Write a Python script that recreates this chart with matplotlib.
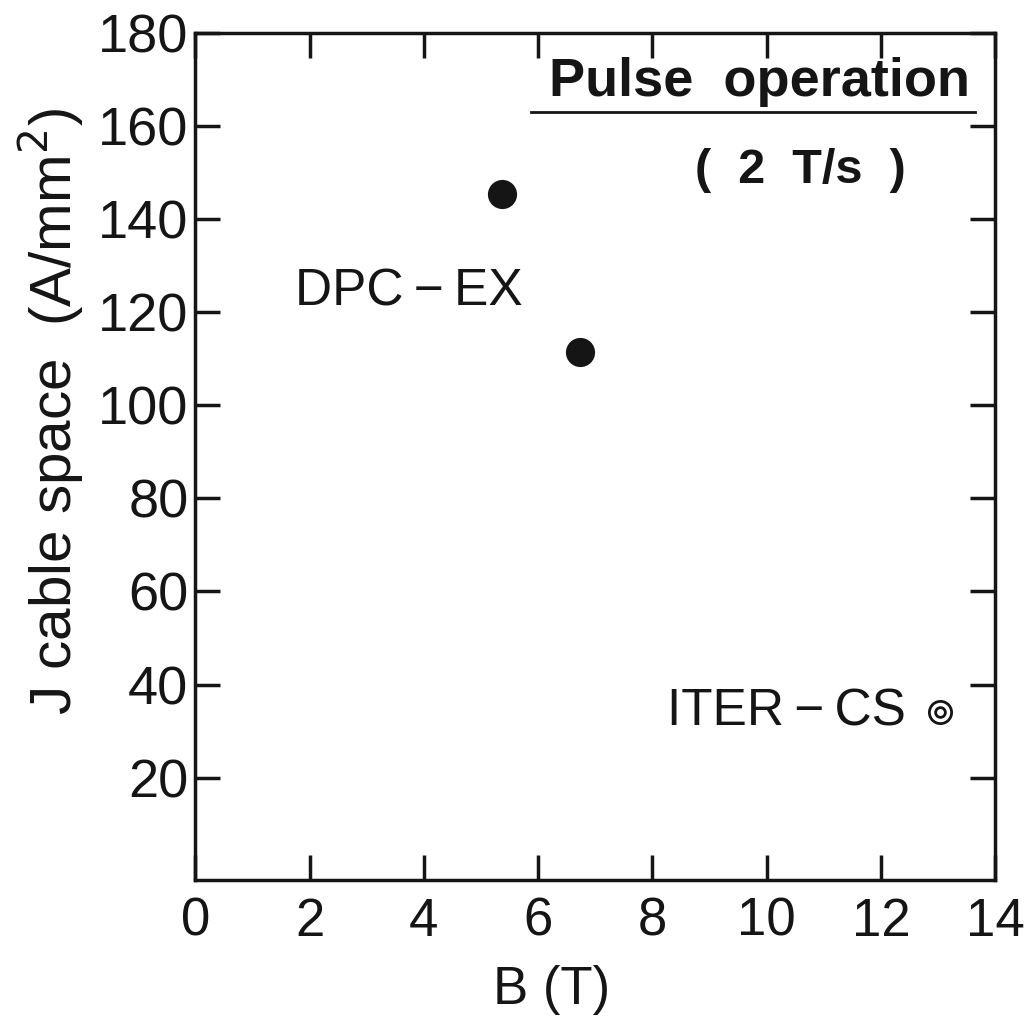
import matplotlib
matplotlib.use("Agg")
import matplotlib.pyplot as plt

plt.rcParams['font.family'] = ['Liberation Sans', 'DejaVu Sans']

# Data
dpc_B = [5.37, 6.74]
dpc_J = [145.4, 111.4]
iter_B = [13.04]
iter_J = [34.0]
xticks = [0, 2, 4, 6, 8, 10, 12, 14]
yticks = [20, 40, 60, 80, 100, 120, 140, 160, 180]

INK = '#151515'

fig = plt.figure(figsize=(10.28, 10.21), dpi=100)
ax = fig.add_axes([0.190, 0.138, 0.778, 0.830])

ax.plot(dpc_B, dpc_J, 'o', color=INK, markersize=21, markeredgewidth=0)
ax.plot(iter_B, iter_J, 'o', markerfacecolor='white', markeredgecolor=INK,
        markersize=16, markeredgewidth=2)
ax.plot(iter_B, iter_J, 'o', markerfacecolor='white', markeredgecolor=INK,
        markersize=7, markeredgewidth=2)

ax.set_xlim(0, 14)
ax.set_ylim(-2, 180)
ax.set_xticks(xticks)
ax.set_yticks(yticks)
ax.set_xticklabels([str(v) for v in xticks], fontsize=38)
ax.set_yticklabels([str(v) for v in yticks], fontsize=39)
ax.tick_params(axis='both', direction='in', length=18, width=2.5,
               top=True, right=True, color=INK, labelcolor=INK)
ax.tick_params(axis='x', pad=12)
ax.tick_params(axis='y', pad=5)
for s in ax.spines.values():
    s.set_linewidth(2.5)
    s.set_color(INK)

ax.set_xlabel('B (T)', fontsize=38, color=INK)
ax.set_ylabel('J cable space  (A/mm$^2$)', fontsize=42, color=INK)
ax.yaxis.set_label_coords(-0.137, 0.553)
ax.xaxis.set_label_coords(0.445, -0.10)

ax.text(1.75, 124.3, 'DPC\u2009\u2212\u2009EX', fontsize=37, ha='left', va='center', color=INK)
ax.text(12.43, 34.0, 'ITER\u2009\u2212\u2009CS', fontsize=37, ha='right', va='center', color=INK)
ax.text(13.56, 169.5, 'Pulse  operation', fontsize=39, fontweight='bold',
        ha='right', va='center', color=INK)
ax.plot([5.87, 13.65], [163.0, 163.0], color=INK, lw=2, clip_on=False)
ax.text(10.6, 150.5, '(  2  T/s  )', fontsize=35, fontweight='bold',
        ha='center', va='center', color=INK)

fig.savefig('out.png', dpi=100, facecolor='white')
